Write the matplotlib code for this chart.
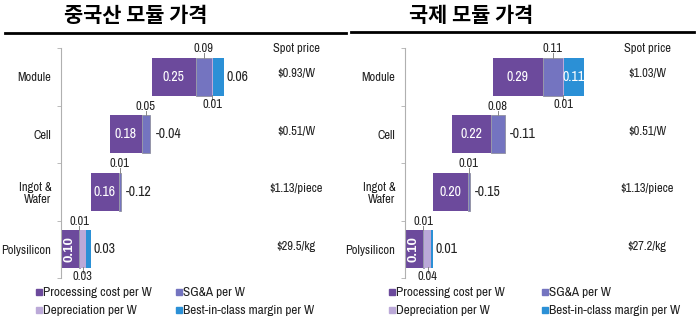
import matplotlib
matplotlib.use('Agg')
import matplotlib.pyplot as plt
from matplotlib import font_manager
from matplotlib.patches import Rectangle
from matplotlib.lines import Line2D

# fonte estreita (tipo Arial Narrow), se existir
disponiveis = set(f.name for f in font_manager.fontManager.ttflist)
preferidas = ['Liberation Sans Narrow', 'Arial Narrow', 'Archivo Narrow', 'PT Sans Narrow',
              'Roboto Condensed', 'Pragati Narrow', 'Encode Sans Condensed', 'Open Sans Condensed']
estreita = [f for f in preferidas if f in disponiveis]
plt.rcParams['font.family'] = estreita[:1] + ['Liberation Sans', 'DejaVu Sans']

# dados
categorias = ['Polysilicon', 'Ingot &\nWafer', 'Cell', 'Module']
titulos = ['중국산 모듈 가격', '국제 모듈 가격']

# China
cn_inicio = [0.0, 0.17, 0.28, 0.52]
cn_processo = [0.10, 0.16, 0.18, 0.25]
cn_sga = [0.01, 0.01, 0.05, 0.09]
cn_deprec = [0.03, 0.0, 0.0, 0.01]
cn_margem = [0.03, -0.12, -0.04, 0.06]
cn_spot = ['$29.5/kg', '$1.13/piece', '$0.51/W', '$0.93/W']

# International
gl_inicio = [0.0, 0.16, 0.27, 0.50]
gl_processo = [0.10, 0.20, 0.22, 0.29]
gl_sga = [0.01, 0.01, 0.08, 0.11]
gl_deprec = [0.04, 0.0, 0.0, 0.01]
gl_margem = [0.01, -0.15, -0.11, 0.11]
gl_spot = ['$27.2/kg', '$1.13/piece', '$0.51/W', '$1.03/W']

cores = {'proc': '#6c4a9c', 'sga': '#7474c0', 'dep': '#bba9d8', 'marg': '#2b90d6'}
legenda = [('Processing cost per W', cores['proc']), ('SG&A per W', cores['sga']),
           ('Depreciation per W', cores['dep']), ('Best-in-class margin per W', cores['marg'])]

W, H = 700, 325
fig = plt.figure(figsize=(7, 3.25), dpi=100)

def fx(px):
    return px / W

def fy(py):
    return 1 - py / H

ALT = 0.66
ESCALA = 175.0  # px por unidade
TXT = '#222222'


def painel(x0, largura, spot_px, inicio, processo, sga, deprec, margem, spot):
    ax = fig.add_axes([fx(x0), fy(278), fx(largura), (278 - 48) / H])
    ax.set_xlim(0, largura / ESCALA)
    ax.set_ylim(-0.5, 3.5)
    for lado in ['top', 'right', 'bottom']:
        ax.spines[lado].set_visible(False)
    ax.spines['left'].set_color('#b0b0b0')
    ax.set_xticks([])
    ax.set_yticks(range(len(categorias)))
    ax.set_yticklabels(categorias, fontsize=9, color=TXT, linespacing=1.15)
    ax.tick_params(axis='y', which='major', length=0, pad=7)
    ax.set_yticks([-0.5, 0.5, 1.5, 2.5, 3.5], minor=True)
    ax.tick_params(axis='y', which='minor', length=3, color='#b0b0b0')

    for i in range(len(categorias)):
        x = inicio[i]
        ax.barh(i, processo[i], left=x, height=ALT, color=cores['proc'], edgecolor='none')
        cx = x + processo[i] / 2
        if i == 0:
            ax.text(cx, i, f'{processo[i]:.2f}', ha='center', va='center', rotation=90,
                    color='white', fontsize=9.5, fontweight='bold', family='Liberation Sans')
        else:
            ax.text(cx, i, f'{processo[i]:.2f}', ha='center', va='center',
                    color='white', fontsize=10)
        x += processo[i]

        # SG&A
        ax.barh(i, sga[i], left=x, height=ALT, color=cores['sga'], edgecolor='#9090a0', linewidth=0.6)
        xs = x + sga[i] / 2
        ax.plot([xs, xs], [i + ALT / 2, i + ALT / 2 + 0.08], color='#888888', lw=0.7)
        ax.text(xs, i + ALT / 2 + 0.06, f'{sga[i]:.2f}', ha='center', va='bottom',
                fontsize=9, color=TXT)
        x += sga[i]

        # Depreciation
        if deprec[i] > 0:
            ax.barh(i, deprec[i], left=x, height=ALT, color=cores['dep'], edgecolor='none')
            xd = x + deprec[i] / 2
            ax.plot([xd, xd], [i - ALT / 2 - 0.08, i - ALT / 2 + 0.02], color='#888888', lw=0.7)
            ax.text(xd, i - ALT / 2 - 0.05, f'{deprec[i]:.2f}', ha='center', va='top',
                    fontsize=9, color=TXT)
            x += deprec[i]

        # Margin
        if margem[i] > 0:
            ax.barh(i, margem[i], left=x, height=ALT, color=cores['marg'], edgecolor='none')
            if margem[i] >= 0.1:
                ax.text(x + margem[i] / 2, i, f'{margem[i]:.2f}', ha='center', va='center',
                        fontsize=10, color='white')
            else:
                ax.text(x + margem[i] + 0.015, i, f'{margem[i]:.2f}', ha='left', va='center',
                        fontsize=10, color=TXT)
        else:
            ax.text(x + 0.03, i, f'{margem[i]:.2f}', ha='left', va='center',
                    fontsize=10, color=TXT)

    # Spot price
    xsp = (spot_px - x0) / ESCALA
    ax.text(xsp, 3.5, 'Spot price', ha='center', va='center', fontsize=9, color=TXT)
    for i, s in enumerate(spot):
        ax.text(xsp, i + 0.05, s, ha='center', va='center', fontsize=9, color=TXT)
    return ax


painel(61, 285, 296, cn_inicio, cn_processo, cn_sga, cn_deprec, cn_margem, cn_spot)
painel(405, 290, 647, gl_inicio, gl_processo, gl_sga, gl_deprec, gl_margem, gl_spot)

# títulos e linhas
fig.text(fx(136), fy(16), titulos[0], ha='center', va='center', fontsize=15,
         fontweight='bold', family=['Noto Sans CJK KR', 'DejaVu Sans'])
fig.text(fx(471), fy(15), titulos[1], ha='center', va='center', fontsize=15,
         fontweight='bold', family=['Noto Sans CJK KR', 'DejaVu Sans'])
fig.add_artist(Line2D([fx(5), fx(346)], [fy(33), fy(33)], color='black', lw=2))
fig.add_artist(Line2D([fx(351), fx(694)], [fy(32), fy(32)], color='black', lw=2))

# legendas
def legenda_painel(x1, x2):
    pos = [(x1, 292), (x2, 292), (x1, 310), (x2, 310)]
    for (rot, cor), (px, py) in zip(legenda, pos):
        fig.add_artist(Rectangle((fx(px), fy(py + 3)), fx(6), 6 / H, color=cor,
                                 transform=fig.transFigure))
        fig.text(fx(px + 7), fy(py), rot, ha='left', va='center', fontsize=9.5, color=TXT)

legenda_painel(36, 176)
legenda_painel(389, 542)

fig.savefig('out.png', dpi=100)
